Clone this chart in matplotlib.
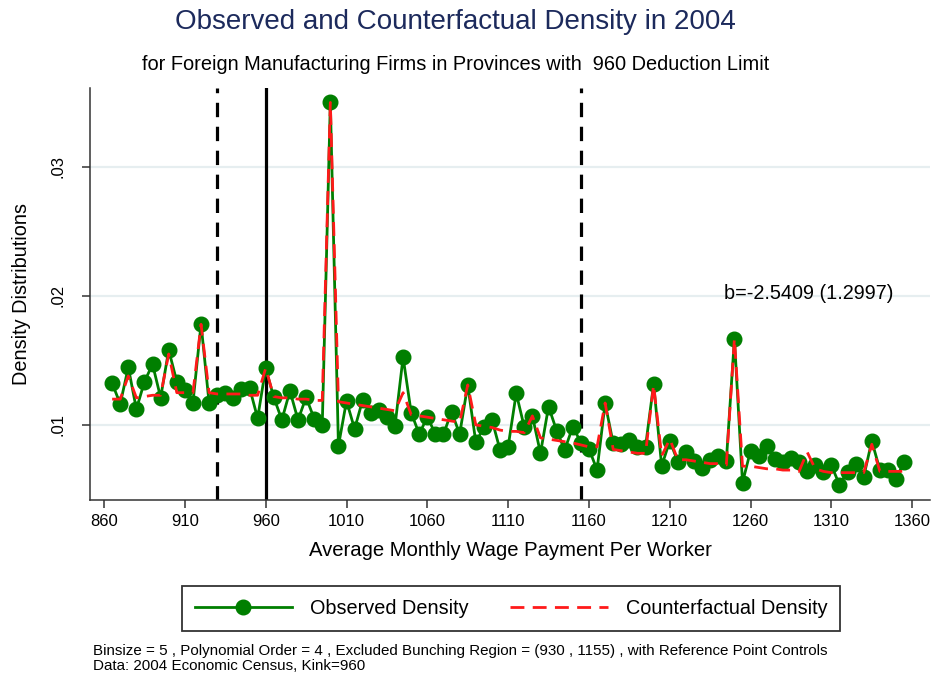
import numpy as np
import matplotlib
matplotlib.use("Agg")
import matplotlib.pyplot as plt
from matplotlib.lines import Line2D

plt.rcParams['font.family'] = ['Liberation Sans', 'DejaVu Sans']

# Wage bins (midpoints, binsize 5)
wage_bins = list(range(865, 1360, 5))

observed = [
    0.01323, 0.01163, 0.01447, 0.01122, 0.01336, 0.01470, 0.01212, 0.01581, 0.01336, 0.01271,
    0.01173, 0.01783, 0.01168, 0.01233, 0.01246, 0.01207, 0.01277, 0.01289, 0.01052, 0.01440,
    0.01214, 0.01039, 0.01264, 0.01039, 0.01214, 0.01049, 0.01000, 0.03500, 0.00837, 0.01186,
    0.00969, 0.01194, 0.01096, 0.01116, 0.01059, 0.00992, 0.01525, 0.01096, 0.00928, 0.01064,
    0.00928, 0.00928, 0.01103, 0.00928, 0.01310, 0.00866, 0.00982, 0.01039, 0.00806, 0.00832,
    0.01246, 0.00982, 0.01070, 0.00781, 0.01142, 0.00956, 0.00806, 0.00987, 0.00863, 0.00815,
    0.00651, 0.01168, 0.00858, 0.00853, 0.00884, 0.00832, 0.00832, 0.01315, 0.00682, 0.00876,
    0.00716, 0.00793, 0.00723, 0.00664, 0.00729, 0.00760, 0.00723, 0.01667, 0.00553, 0.00801,
    0.00757, 0.00840, 0.00736, 0.00716, 0.00742, 0.00716, 0.00643, 0.00687, 0.00636, 0.00687,
    0.00535, 0.00638, 0.00695, 0.00599, 0.00876, 0.00651, 0.00651, 0.00579, 0.00716,
]

counterfactual = [
    0.0120, 0.0120, 0.0138, 0.0121, 0.0122, 0.0123, 0.0123, 0.0155, 0.0125, 0.0125,
    0.0125, 0.0178, 0.0125, 0.0124, 0.0124, 0.0124, 0.0124, 0.0123, 0.0123, 0.0144,
    0.0122, 0.0121, 0.0121, 0.0120, 0.0120, 0.0119, 0.0119, 0.0350, 0.0118, 0.0117,
    0.0116, 0.0115, 0.0114, 0.0113, 0.0112, 0.0111, 0.0125, 0.0108, 0.0107, 0.0106,
    0.0105, 0.0104, 0.0103, 0.0102, 0.0131, 0.0100, 0.0099, 0.0098, 0.0096, 0.0095,
    0.0095, 0.0094, 0.0107, 0.0090, 0.0089, 0.0088, 0.0087, 0.0086, 0.00845, 0.0083,
    0.0083, 0.0117, 0.0081, 0.0080, 0.0079, 0.0078, 0.0078, 0.0131, 0.0076, 0.0089,
    0.0073, 0.0073, 0.0072, 0.0071, 0.0070, 0.0070, 0.0069, 0.0167, 0.0068, 0.0068,
    0.0067, 0.0066, 0.0066, 0.0065, 0.0065, 0.0064, 0.0079, 0.0066, 0.0064, 0.0063,
    0.0063, 0.0063, 0.0063, 0.0063, 0.0085, 0.0064, 0.0064, 0.0064, 0.0064,
]

x_ticks = [860, 910, 960, 1010, 1060, 1110, 1160, 1210, 1260, 1310, 1360]
y_ticks = [0.01, 0.02, 0.03]
y_tick_labels = [".01", ".02", ".03"]

kink = 960
bunch_lower, bunch_upper = 930, 1155

GREEN = "#007f00"
RED = "#ff1a1a"

fig = plt.figure(figsize=(9.35, 6.73), dpi=100)
ax = fig.add_axes([90/935, 1 - 500/673, 840/935, 412/673])

ax.set_xlim(851.3, 1371)
ax.set_ylim(0.00418, 0.03612)

for yt in y_ticks:
    ax.axhline(yt, color="#e6eef0", lw=1.6, zorder=0)

ax.plot(wage_bins, observed, color=GREEN, lw=2, marker="o", ms=10.5,
        markerfacecolor=GREEN, markeredgecolor=GREEN, zorder=3)
ax.plot(wage_bins, counterfactual, color=RED, lw=2, ls=(0, (5, 3)), zorder=4)

ax.axvline(bunch_lower, color="black", lw=2.3, ls=(0, (4.5, 3)), zorder=2)
ax.axvline(bunch_upper, color="black", lw=2.3, ls=(0, (4.5, 3)), zorder=2)
ax.axvline(kink, color="black", lw=2.3, zorder=2)

ax.text(1296, 0.0202, "b=-2.5409 (1.2997)", ha="center", va="center", fontsize=14.3)

ax.set_xticks(x_ticks)
ax.set_xticklabels([str(v) for v in x_ticks], fontsize=12)
ax.set_yticks(y_ticks)
ax.set_yticklabels(y_tick_labels, fontsize=12, rotation=90, va="center")
ax.tick_params(axis="both", direction="out", length=6, width=1.1, color="#333333")
ax.tick_params(axis="x", pad=4)
ax.tick_params(axis="y", pad=12)

for side in ("top", "right"):
    ax.spines[side].set_visible(False)
for side in ("left", "bottom"):
    ax.spines[side].set_color("#333333")
    ax.spines[side].set_linewidth(1.1)

ax.set_xlabel("Average Monthly Wage Payment Per Worker", fontsize=14.6, labelpad=9)
ax.set_ylabel("Density Distributions", fontsize=14.3, labelpad=14)

fig.text(455/935, 1 - 22/673, "Observed and Counterfactual Density in 2004",
         ha="center", va="center", fontsize=20, color="#1c2a5c")
fig.text(456/935, 1 - 65/673, "for Foreign Manufacturing Firms in Provinces with  960 Deduction Limit",
         ha="center", va="center", fontsize=14.4)

handles = [
    Line2D([0], [0], color=GREEN, lw=2, marker="o", ms=10.5),
    Line2D([0], [0], color=RED, lw=2, ls=(0, (5, 3))),
]
leg = fig.legend(handles, ["Observed Density", "Counterfactual Density"],
                 loc="center", bbox_to_anchor=(511/935, 1 - 608.5/673),
                 ncol=2, fontsize=14.3, frameon=True, fancybox=False,
                 handlelength=4.9, columnspacing=2.1, handletextpad=0.9,
                 borderpad=0.65, borderaxespad=0.0, edgecolor="black")
leg.get_frame().set_linewidth(1.3)

fig.text(93/935, 1 - 651/673,
         "Binsize = 5 , Polynomial Order = 4 , Excluded Bunching Region = (930 , 1155) , with Reference Point Controls",
         ha="left", va="center", fontsize=10.9)
fig.text(93/935, 1 - 666/673, "Data: 2004 Economic Census, Kink=960",
         ha="left", va="center", fontsize=10.9)

fig.savefig("out.png", dpi=100, facecolor="white")
